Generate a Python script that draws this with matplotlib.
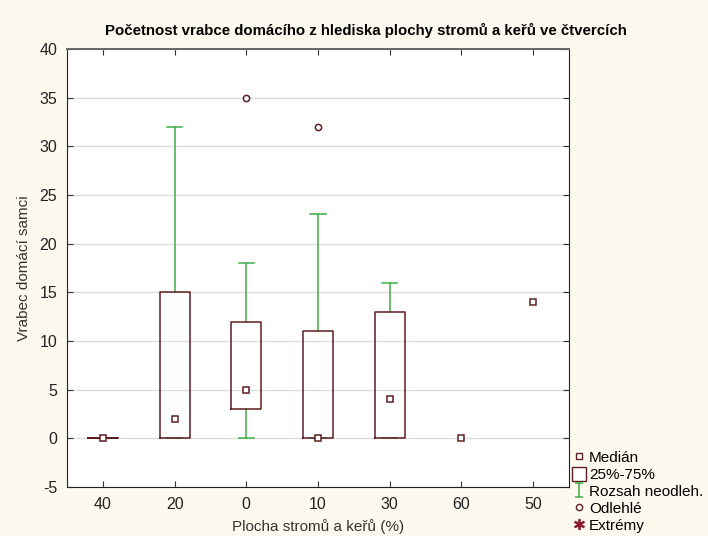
import numpy as np
import matplotlib.pyplot as plt
from matplotlib.lines import Line2D
from matplotlib.patches import Rectangle
from matplotlib.path import Path

plt.rcParams['font.family'] = ['Liberation Sans', 'DejaVu Sans']
plt.rcParams['axes.unicode_minus'] = False

# plocha stromu a keru (%) -> vrabec domaci samci
categories = ['40', '20', '0', '10', '30', '60', '50']
medians = [0, 2, 5, 0, 4, 0, 14]
q1 = [0, 0, 3, 0, 0]
q3 = [0, 15, 12, 11, 13]
whis_lo = [0, 0, 0, 0, 0]
whis_hi = [0, 32, 18, 23, 16]
outliers = [[], [], [35], [32], []]

maroon = '#5e1e22'
green = '#3dae45'
bg = '#fdf9ef'

fig = plt.figure(figsize=(7.08, 5.36), dpi=100, facecolor=bg)
ax = fig.add_axes([67 / 708, 49 / 536, 502 / 708, 438 / 536])

stats = []
for i in range(len(q1)):
    stats.append(dict(med=medians[i], q1=q1[i], q3=q3[i],
                      whislo=whis_lo[i], whishi=whis_hi[i],
                      fliers=outliers[i]))

ax.bxp(stats, positions=range(len(q1)), widths=0.42,
       boxprops=dict(color=maroon, linewidth=1.1, zorder=4),
       whiskerprops=dict(color=green, linewidth=1.1, zorder=3),
       capprops=dict(color=green, linewidth=1.1, zorder=3),
       medianprops=dict(linestyle='none'),
       flierprops=dict(marker='o', markersize=4.5, markerfacecolor='white',
                       markeredgecolor=maroon, markeredgewidth=1.1))

x = np.arange(len(categories))
ax.plot(x, medians, linestyle='none', marker='s', markersize=5,
        markerfacecolor='white', markeredgecolor=maroon,
        markeredgewidth=1.1, zorder=5)

ax.set_xlim(-0.5, 6.5)
ax.set_ylim(-5, 40)
ax.set_xticks(x)
ax.set_xticklabels(categories)
ax.set_yticks(np.arange(-5, 41, 5))
ax.yaxis.grid(True, color='#dcdcdc', linewidth=1)
ax.set_axisbelow(True)
ax.tick_params(direction='in', top=True, right=True, length=4,
               labelsize=11.5, color='#333333', labelcolor='#222222', pad=7)
for s in ax.spines.values():
    s.set_color('#222222')
ax.spines['top'].set_color('#666666')
ax.spines['top'].set_linewidth(1.4)

ax.set_xlabel('Plocha stromů a keřů (%)', fontsize=11, color='#333333',
              labelpad=5)
ax.set_ylabel('Vrabec domácí samci', fontsize=11, color='#333333',
              labelpad=6)
fig.text(366 / 708, 1 - 30 / 536,
         'Početnost vrabce domácího z hlediska plochy stromů a keřů ve čtvercích',
         ha='center', va='center', fontsize=10.8, fontweight='bold')

# legenda
ibeam = Path([(-0.6, 1), (0.6, 1), (0, 1), (0, -1), (-0.6, -1), (0.6, -1)],
             [Path.MOVETO, Path.LINETO, Path.MOVETO, Path.LINETO,
              Path.MOVETO, Path.LINETO])
handles = [
    Line2D([], [], linestyle='none', marker='s', markersize=5,
           markerfacecolor='white', markeredgecolor=maroon),
    Rectangle((0, 0), 1, 1, facecolor='white', edgecolor=maroon),
    Line2D([], [], linestyle='none', marker=ibeam, markersize=10,
           markeredgecolor=green, markeredgewidth=1.1, fillstyle='none'),
    Line2D([], [], linestyle='none', marker='o', markersize=4.5,
           markerfacecolor='white', markeredgecolor=maroon),
    Line2D([], [], linestyle='none', marker='$*$', markersize=7,
           color='#8a1c2c'),
]
labels = ['Medián', '25%-75%', 'Rozsah neodleh.', 'Odlehlé', 'Extrémy']
fig.legend(handles, labels, loc='lower left',
           bbox_to_anchor=(572 / 708, 3 / 536), frameon=False,
           fontsize=11, handlelength=0.9, handleheight=1.0,
           handletextpad=0.2, labelspacing=0.12, borderpad=0,
           borderaxespad=0)

fig.savefig('out.png', dpi=100, facecolor=bg)
